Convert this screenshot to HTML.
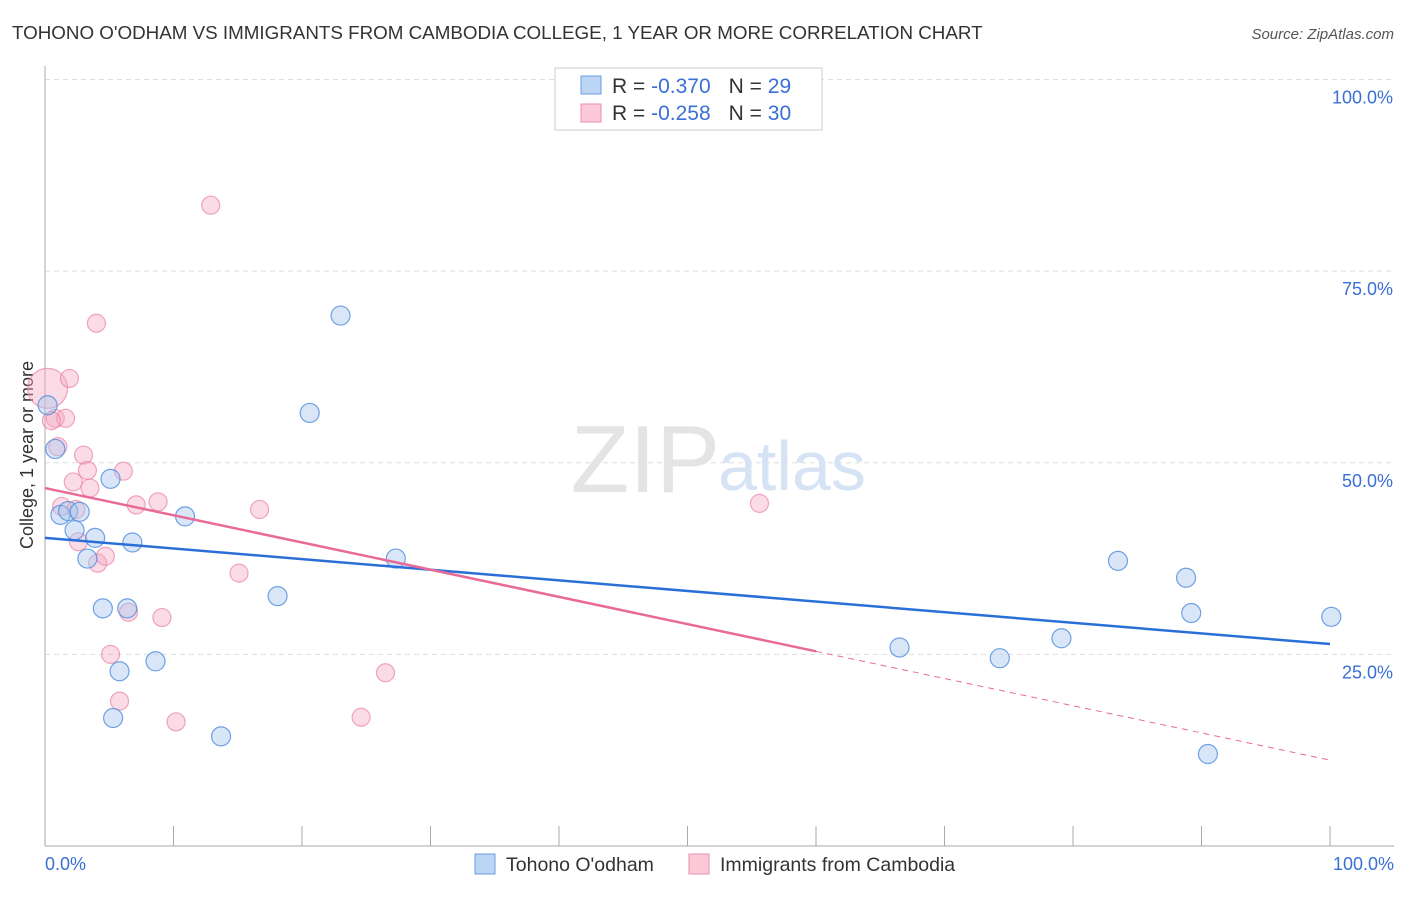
<!DOCTYPE html>
<html><head><meta charset="utf-8"><style>
body{margin:0;background:#fff;font-family:"Liberation Sans",sans-serif}
svg text{font-family:"Liberation Sans",sans-serif}
</style></head><body>
<svg id="c" width="1406" height="892">
<text x="12" y="39" font-size="18.8" fill="#333">TOHONO O'ODHAM VS IMMIGRANTS FROM CAMBODIA COLLEGE, 1 YEAR OR MORE CORRELATION CHART</text>
<text x="1394" y="39" font-size="15" fill="#555" font-style="italic" text-anchor="end">Source: ZipAtlas.com</text>
<text x="33" y="455" font-size="18" fill="#333" text-anchor="middle" transform="rotate(-90 33 455)">College, 1 year or more</text>
<g id="grid"></g>
<text x="720" y="492" font-size="96" fill="#e4e4e4" font-family="Liberation Serif" text-anchor="end">ZIP</text>
<text x="718" y="490" font-size="70" fill="#d6e3f5">atlas</text>
<g id="marks"></g>
<g>
<rect x="555" y="68" width="267" height="62" fill="#fff" stroke="#ccc"/>
<rect x="581" y="76" width="20" height="18" fill="#bcd5f5" stroke="#6a9be0"/>
<rect x="581" y="104" width="20" height="18" fill="#fbc9d8" stroke="#eb8fae"/>
<text x="612" y="93" font-size="21" fill="#333">R = <tspan fill="#3a6fd6">-0.370</tspan><tspan dx="18">N = </tspan><tspan fill="#3a6fd6">29</tspan></text>
<text x="612" y="120" font-size="21" fill="#333">R = <tspan fill="#3a6fd6">-0.258</tspan><tspan dx="18">N = </tspan><tspan fill="#3a6fd6">30</tspan></text>
</g>
<g>
<rect x="475" y="854" width="20" height="20" fill="#bcd5f5" stroke="#6a9be0"/>
<text x="506" y="871" font-size="19.5" fill="#333">Tohono O'odham</text>
<rect x="689" y="854" width="20" height="20" fill="#fbc9d8" stroke="#eb8fae"/>
<text x="720" y="871" font-size="19.5" fill="#333">Immigrants from Cambodia</text>
</g>
</svg>
<script>
const yTicks=[25,50,75,100];
const yTickLabels=["25.0%","50.0%","75.0%","100.0%"];
const blueX=[0.2,0.8,1.2,1.8,2.7,2.3,3.3,3.9,5.1,4.5,6.4,5.8,5.3,6.8,8.6,10.9,13.7,18.1,20.6,23.0,27.3,66.5,74.3,79.1,83.5,88.8,89.2,90.5,100.1];
const blueY=[57.5,51.8,43.2,43.7,43.6,41.2,37.5,40.2,47.9,31.0,31.0,22.8,16.7,39.6,24.1,43.0,14.3,32.6,56.5,69.2,37.5,25.9,24.5,27.1,37.2,35.0,30.4,12.0,29.9];
const pinkX=[0.2,1.9,0.8,1.6,1.0,3.0,3.3,2.2,3.5,1.3,2.4,2.6,4.1,4.7,6.1,7.1,8.8,4.0,12.9,16.7,15.1,9.1,6.5,5.1,5.8,10.2,24.6,26.5,55.6,0.5];
const pinkY=[59.7,61.0,55.8,55.8,52.1,51.0,49.0,47.5,46.7,44.3,43.9,39.7,36.9,37.8,48.9,44.5,44.9,68.2,83.6,43.9,35.6,29.8,30.5,25.0,18.9,16.2,16.8,22.6,44.7,55.5];
const pinkR=[20,9,9,9,9,9,9,9,9,9,9,9,9,9,9,9,9,9,9,9,9,9,9,9,9,9,9,9,9,9];
const blueTrend=[40.2,26.35];
const pinkTrend=[46.7,11.2];
const pinkSolidEnd=60;
const X=v=>45+v*12.85, Y=v=>846-v*7.665;
const NS="http://www.w3.org/2000/svg";
const grid=document.getElementById('grid'), marks=document.getElementById('marks');
function mk(p,tag,a){const e=document.createElementNS(NS,tag);for(const k in a)e.setAttribute(k,a[k]);p.appendChild(e);return e;}
yTicks.forEach((t,i)=>{
 const l=mk(grid,'line',{x1:45,x2:1394,y1:Y(t),y2:Y(t),stroke:'#ddd','stroke-dasharray':'5,4'});
 
 
 const tx=mk(grid,'text',{x:1393,y:Y(t)+24,'font-size':18,fill:'#3a6fd6','text-anchor':'end'});
 tx.textContent=yTickLabels[i];
 
 
});
const ax=mk(grid,'line',{x1:45,x2:45,y1:66,y2:846,stroke:'#aaa'});


const bx=mk(grid,'line',{x1:45,x2:1394,y1:846,y2:846,stroke:'#aaa'});


for(let i=1;i<=10;i++){const t=mk(grid,'line',{x1:X(i*10),x2:X(i*10),y1:826,y2:846,stroke:'#aaa'});
 
 }
[["0.0%",45,'start'],["100.0%",1394,'end']].forEach(d=>{const t=mk(grid,'text',{x:d[1],y:870,'font-size':18,fill:'#3a6fd6','text-anchor':d[2]});t.textContent=d[0];
 
 });
pinkX.forEach((x,i)=>{const c=mk(marks,'circle',{cx:X(x),cy:Y(pinkY[i]),r:pinkR[i],fill:'rgba(246,168,192,0.4)',stroke:'rgba(232,130,165,0.7)','stroke-width':1.2});
 
 });
blueX.forEach((x,i)=>{const c=mk(marks,'circle',{cx:X(x),cy:Y(blueY[i]),r:9.5,fill:'rgba(168,200,240,0.45)',stroke:'rgba(80,140,220,0.8)','stroke-width':1.2});
 
 });
const pAt=x=>pinkTrend[0]+(pinkTrend[1]-pinkTrend[0])*x/100;
const bl=mk(marks,'line',{x1:X(0),y1:Y(blueTrend[0]),x2:X(100),y2:Y(blueTrend[1]),stroke:'#2a6fd8','stroke-width':2.5});


const pl=mk(marks,'line',{x1:X(0),y1:Y(pAt(0)),x2:X(pinkSolidEnd),y2:Y(pAt(pinkSolidEnd)),stroke:'#e86a96','stroke-width':2.5});


const pd=mk(marks,'line',{x1:X(pinkSolidEnd),y1:Y(pAt(pinkSolidEnd)),x2:X(100),y2:Y(pAt(100)),stroke:'#e86a96','stroke-width':1,'stroke-dasharray':'6,5'});


</script>
</body></html>
